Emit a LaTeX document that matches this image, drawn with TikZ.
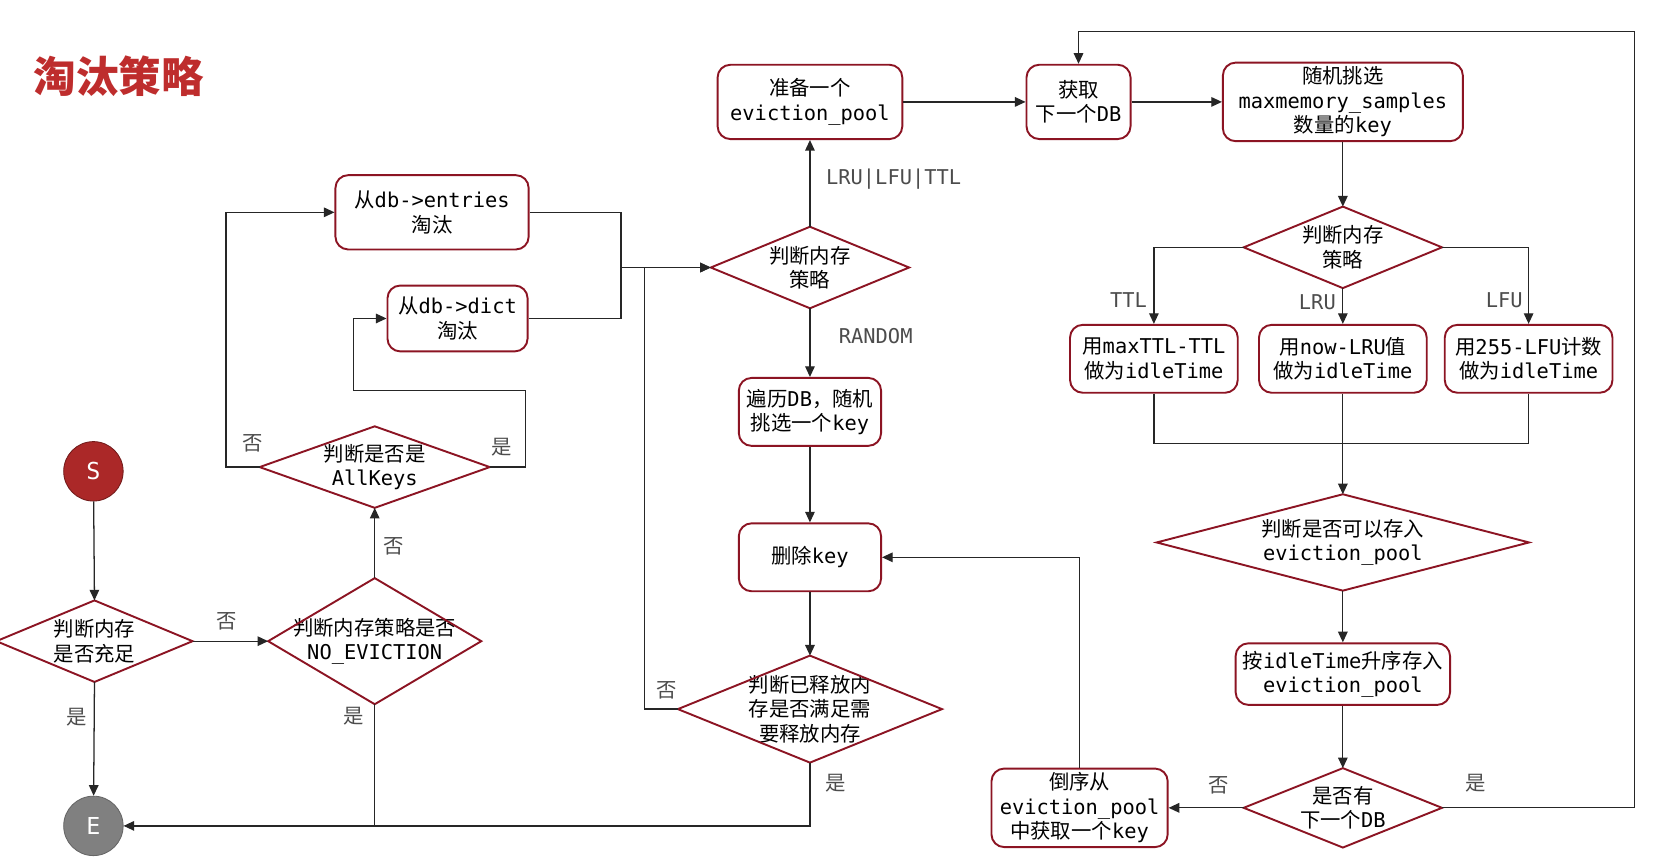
\documentclass[tikz,border=0pt]{standalone}
\usepackage{fontspec}
\setmainfont{DejaVu Sans Mono}
\newfontfamily\cjk{Noto Sans CJK SC}
\newcommand\zh[1]{{\cjk #1}}
\usetikzlibrary{arrows.meta}
\definecolor{bd}{RGB}{140,20,35}
\definecolor{ttl}{RGB}{190,45,45}
\begin{document}
\begin{tikzpicture}[x=0.5pt,y=-0.5pt,
  font=\fontsize{9.6}{11.5}\selectfont,
  box/.style={draw=bd,line width=0.9pt,rounded corners=6pt,align=center,inner sep=0pt},
  dia/.style={align=center,inner sep=0pt},
  dd/.style={draw=bd,line width=0.9pt},
  ln/.style={line width=0.6pt,draw=black!85},
  ar/.style={ln,-{Triangle[length=5pt,width=4.5pt]}},
  lb/.style={text=black!70}]
\useasboundingbox (0,0) rectangle (1560,814);
\fill[white] (0,0) rectangle (1560,814);
\node[text=ttl,font=\cjk\bfseries\fontsize{20}{22}\selectfont] (title) at (112,72) {淘汰策略};
% nodes
\node[box,minimum width=87pt,minimum height=35pt] (pool) at (763,96) {\zh{准备一个}\\eviction\_pool};
\node[box,minimum width=49pt,minimum height=35pt] (getdb) at (1016,96) {\zh{获取}\\\zh{下一个}DB};
\node[box,minimum width=113pt,minimum height=37pt] (rand) at (1265,96) {\zh{随机挑选}\\maxmemory\_samples\\\zh{数量的}key};
\node[dia,minimum width=93pt,minimum height=38pt] (j1) at (1265,233) {\zh{判断内存}\\\zh{策略}};
\node[box,minimum width=79pt,minimum height=32pt] (ttlb) at (1087,338) {\zh{用}maxTTL-TTL\\\zh{做为}idleTime};
\node[box,minimum width=79pt,minimum height=32pt] (lrub) at (1265,338) {\zh{用}now-LRU\zh{值}\\\zh{做为}idleTime};
\node[box,minimum width=79pt,minimum height=32pt] (lfub) at (1440,338) {\zh{用}255-LFU\zh{计数}\\\zh{做为}idleTime};
\node[dia,minimum width=175pt,minimum height=45pt] (j2) at (1265,511) {\zh{判断是否可以存入}\\eviction\_pool};
\node[box,minimum width=101pt,minimum height=29pt] (asc) at (1265,635) {\zh{按}idleTime\zh{升序存入}\\eviction\_pool};
\node[dia,minimum width=93pt,minimum height=37pt] (nx) at (1265,761) {\zh{是否有}\\\zh{下一个}DB};
\node[box,minimum width=83pt,minimum height=37pt] (rev) at (1017,761) {\zh{倒序从}\\eviction\_pool\\\zh{中获取一个}key};
\node[box,minimum width=67pt,minimum height=32pt] (del) at (763,525) {\zh{删除}key};
\node[dia,minimum width=93pt,minimum height=38pt] (jm) at (763,252) {\zh{判断内存}\\\zh{策略}};
\node[box,minimum width=67pt,minimum height=32pt] (trav) at (763,388) {\zh{遍历}DB\zh{，随机}\\\zh{挑选一个}key};
\node[dia,minimum width=124pt,minimum height=50pt] (rel) at (763,668) {\zh{判断已释放内}\\\zh{存是否满足需}\\\zh{要释放内存}};
\node[box,minimum width=91pt,minimum height=35pt] (ent) at (407,200) {\zh{从}db->entries\\\zh{淘汰}};
\node[box,minimum width=66pt,minimum height=31pt] (dict) at (431,300) {\zh{从}db->dict\\\zh{淘汰}};
\node[dia,minimum width=108pt,minimum height=38pt] (ak) at (353,440) {\zh{判断是否是}\\AllKeys};
\node[dia,minimum width=100pt,minimum height=59pt] (ne) at (353,604) {\zh{判断内存策略是否}\\NO\_EVICTION};
\node[dia,minimum width=92pt,minimum height=38pt] (full) at (89,604) {\zh{判断内存}\\\zh{是否充足}};
\foreach \n in {j1,j2,nx,jm,rel,ak,ne,full}
  \draw[dd] (\n.north) -- (\n.east) -- (\n.south) -- (\n.west) -- cycle;
\node[circle,fill=ttl!90!black,draw=ttl!60!black,minimum size=28pt,text=white,inner sep=0pt,font=\fontsize{11}{12}\selectfont] (S) at (88,444) {S};
\node[circle,fill=black!50,draw=black!60,minimum size=28pt,text=white,inner sep=0pt,font=\fontsize{11}{12}\selectfont] (E) at (88,778) {E};
\coordinate (jn) at (585,252);
\coordinate (ej) at (353,778);
% right flow
\draw[ar] (pool) -- (getdb);
\draw[ar] (getdb) -- (rand);
\draw[ar] (rand) -- (j1.north);
\draw[ar] (j1.west) -| (ttlb.north);
\draw[ar] (j1.south) -- (lrub.north);
\draw[ar] (j1.east) -| (lfub.north);
\node[lb] (lt) at (1063,283) {TTL};
\node[lb] (ll) at (1241,285) {LRU};
\node[lb] (lf) at (1417,283) {LFU};
\draw[ln] (ttlb.south) |- (1440,418) -- (lfub.south);
\draw[ar] (lrub.south) -- (j2.north);
\draw[ar] (j2.south) -- (asc);
\draw[ar] (asc) -- (nx.north);
\draw[ar] (nx.east) -- (1540,761) -- (1540,30) -| (getdb.north);
\node[lb] (ly) at (1390,738) {\zh{是}};
\draw[ar] (nx.west) -- (rev);
\node[lb] (ln1) at (1148,740) {\zh{否}};
\draw[ar] (rev.north) |- (del.east);
% middle
\draw[ar] (jm.north) -- node[lb,right=4pt,pos=0.55]{LRU|LFU|TTL} (pool);
\draw[ar] (jm.south) -- node[lb,right=10pt,pos=0.4]{RANDOM} (trav);
\draw[ar] (trav) -- (del);
\draw[ar] (del) -- (rel.north);
\draw[ar] (rel.west) -- (607,668) -- (607,252) -- (jm.west);
\node[lb] (ln2) at (628,650) {\zh{否}};
\draw[ar] (rel.south) -- (763,778) -- (E.east);
\node[lb] (ly2) at (787,738) {\zh{是}};
\draw[ln] (ent.east) -| (jn);
\draw[ln] (dict.east) -| (jn);
\draw[ar] (jn) -- (jm.west);
% left
\draw[ar] (ak.west) -- (213,440) |- (ent.west);
\node[lb] (ln3) at (238,418) {\zh{否}};
\draw[ar] (ak.east) -- (495,440) -- (495,368) -- (333,368) |- (dict.west);
\node[lb] (ly3) at (473,421) {\zh{是}};
\draw[ar] (ne.north) -- (ak.south);
\node[lb] (ln4) at (371,515) {\zh{否}};
\draw[ln] (ne.south) -- (ej);
\node[lb] (ly4) at (333,675) {\zh{是}};
\draw[ar] (S) -- (full.north);
\draw[ar] (full.east) -- (ne.west);
\node[lb] (ln5) at (214,585) {\zh{否}};
\draw[ar] (full.south) -- (E);
\node[lb] (ly5) at (72,676) {\zh{是}};
\end{tikzpicture}
\end{document}
